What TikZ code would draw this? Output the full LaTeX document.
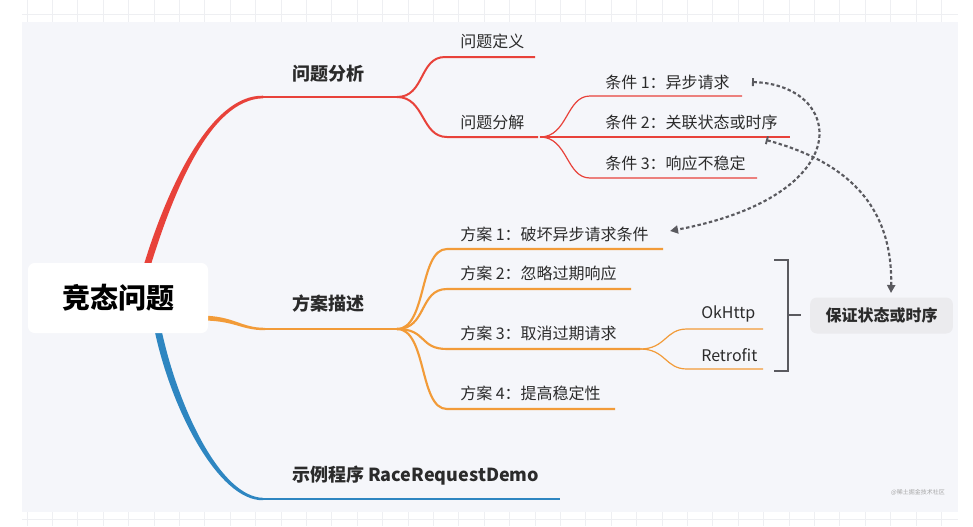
\documentclass[tikz,border=0pt]{standalone}
\usepackage{fontspec}
\setmainfont{Noto Sans CJK SC}
\usetikzlibrary{arrows.meta}
\definecolor{bgin}{HTML}{F5F6FA}
\definecolor{gridc}{HTML}{EEEFF2}
\definecolor{cred}{HTML}{E8423A}
\definecolor{corg}{HTML}{F29B38}
\definecolor{cblu}{HTML}{2E86C1}
\definecolor{ctxt}{HTML}{2B2B2B}
\definecolor{cgry}{HTML}{5A5A5F}
\definecolor{cbox}{HTML}{EBEBEE}
\begin{document}
\begin{tikzpicture}[x=0.75pt,y=-0.75pt,
  lvone/.style={font=\fontsize{13.5}{16}\selectfont\bfseries, text=ctxt, anchor=west, inner sep=0pt},
  lvtwo/.style={font=\fontsize{12}{14}\selectfont, text=ctxt, anchor=west, inner sep=0pt},
  rootbox/.style={fill=white, rounded corners=5pt, minimum width=135pt, minimum height=52.5pt,
    font=\fontsize{21}{24}\selectfont\bfseries, text=black},
  goalbox/.style={fill=cbox, rounded corners=5pt, minimum width=107pt, minimum height=27pt,
    font=\fontsize{12}{14}\selectfont\bfseries, text=ctxt},
  redtwo/.style={draw=cred, line width=1.5pt},
  redthree/.style={draw=cred, line width=0.9pt},
  orgone/.style={draw=corg, line width=1.9pt},
  orgtwo/.style={draw=corg, line width=1.6pt},
  orgthree/.style={draw=corg, line width=0.9pt},
  redone/.style={draw=cred, line width=1.9pt},
  bluone/.style={draw=cblu, line width=1.9pt},
  dasharrow/.style={draw=cgry, line width=1.6pt, dash pattern=on 2.6pt off 1.8pt,
    {Bar[width=6pt,line width=1.4pt]}-{Triangle[length=6pt,width=6pt]}},
  bracketline/.style={draw=cgry, line width=1.4pt},
  ]
% background
\useasboundingbox (0,0) rectangle (973,526);
\fill[white] (0,0) rectangle (973,526);
\foreach \gx in {27,52.4,...,960} {
  \draw[gridc, line width=0.5pt] (\gx,0) -- (\gx,22);
  \draw[gridc, line width=0.5pt] (\gx,512) -- (\gx,526);
}
\draw[gridc, line width=0.5pt] (22,14) -- (958,14);
\draw[gridc, line width=0.5pt] (22,519) -- (958,519);
\fill[bgin] (22,22) rectangle (958,512);

% ---------- coordinates ----------
\coordinate (rfork) at (397,97);
\coordinate (rstart) at (262,97);
\coordinate (dy1a) at (445,57);  \coordinate (dy1b) at (535,57);
\coordinate (dy2a) at (447,137); \coordinate (dy2b) at (538,137);
\coordinate (cfork) at (540,137);
\coordinate (c1a) at (590,96);  \coordinate (c1b) at (742,96);
\coordinate (c2a) at (590,137); \coordinate (c2b) at (790,137);
\coordinate (c3a) at (590,178); \coordinate (c3b) at (757,178);

\coordinate (ostart) at (264,329);
\coordinate (ofork) at (397,329);
\coordinate (f1a) at (447,249); \coordinate (f1b) at (663,249);
\coordinate (f2a) at (447,289); \coordinate (f2b) at (631,289);
\coordinate (f3a) at (447,349); \coordinate (f3b) at (640,349);
\coordinate (f4a) at (447,409); \coordinate (f4b) at (615,409);
\coordinate (ok1) at (687,329); \coordinate (ok2) at (763,329);
\coordinate (rt1) at (687,369); \coordinate (rt2) at (763,369);

\coordinate (bstart) at (262,499);
\coordinate (bend) at (560,499);

\coordinate (bk1) at (774,260); \coordinate (bk2) at (788,260);
\coordinate (bk3) at (788,371); \coordinate (bk4) at (774,371);
\coordinate (bkm) at (788,315); \coordinate (bkt) at (801,315);

% ---------- level one branches (tapered) ----------
\fill[cred] (143.5,266) .. controls (166.5,190) and (210,94.6) .. (263,95.7)
  -- (263,98.3) .. controls (210,99.4) and (173.5,192) .. (150.5,266) -- cycle;
\draw[redone] (rstart) -- (rfork);
\fill[corg] (200,315.5) .. controls (235,315.8) and (240,327.8) .. (265,327.8)
  -- (265,330.2) .. controls (240,330.2) and (235,320.2) .. (200,320.5) -- cycle;
\draw[orgone] (ostart) -- (ofork);
\fill[cblu] (154.5,330) .. controls (171.5,411) and (219,501) .. (263,500.2)
  -- (263,497.8) .. controls (221,497) and (178.5,409) .. (161.5,330) -- cycle;
\draw[bluone] (bstart) -- (bend);

% ---------- level two, red ----------
\draw[redtwo] (rfork) .. controls +(28,0) and +(-26,0) .. (dy1a) -- (dy1b);
\draw[redtwo] (rfork) .. controls +(28,0) and +(-26,0) .. (dy2a) -- (dy2b);
% level three, red
\draw[redthree] (cfork) .. controls +(28,0) and +(-24,0) .. (c1a) -- (c1b);
\draw[redthree] (cfork) -- (c2a) -- (c2b);
\draw[redthree] (cfork) .. controls +(28,0) and +(-24,0) .. (c3a) -- (c3b);

% ---------- level two, orange ----------
\draw[orgtwo] (ofork) .. controls +(30,0) and +(-28,0) .. (f1a) -- (f1b);
\draw[orgtwo] (ofork) .. controls +(30,0) and +(-28,0) .. (f2a) -- (f2b);
\draw[orgtwo] (ofork) .. controls +(30,0) and +(-28,0) .. (f3a) -- (f3b);
\draw[orgtwo] (ofork) .. controls +(30,0) and +(-28,0) .. (f4a) -- (f4b);
% level three, orange
\draw[orgthree] (f3b) .. controls +(26,0) and +(-22,0) .. (ok1) -- (ok2);
\draw[orgthree] (f3b) .. controls +(26,0) and +(-22,0) .. (rt1) -- (rt2);

% ---------- nodes ----------
\node[rootbox] (root) at (118,298) {竞态问题};

\node[lvone] (fenxi) at (292,74) {问题分析};
\node[lvone] (miaoshu) at (292,304) {方案描述};
\node[lvone] (demo) at (292,476) {示例程序 RaceRequestDemo};

\node[lvtwo] (dingyi) at (460,41) {问题定义};
\node[lvtwo] (fenjie) at (460,122) {问题分解};
\node[lvtwo] (tj1) at (605,82) {条件 1：异步请求};
\node[lvtwo] (tj2) at (605,122) {条件 2：关联状态或时序};
\node[lvtwo] (tj3) at (605,163) {条件 3：响应不稳定};

\node[lvtwo] (fa1) at (460,234) {方案 1：破坏异步请求条件};
\node[lvtwo] (fa2) at (460,273) {方案 2：忽略过期响应};
\node[lvtwo] (fa3) at (460,333) {方案 3：取消过期请求};
\node[lvtwo] (fa4) at (460,393) {方案 4：提高稳定性};
\node[lvtwo] (okhttp) at (701,314) {OkHttp};
\node[lvtwo] (retro) at (701,355) {Retrofit};

\node[goalbox] (goal) at (881.5,315.5) {保证状态或时序};

\node[font=\fontsize{4.5}{5}\selectfont, text=gray!70, inner sep=0pt] (wm) at (918,492) {@稀土掘金技术社区};

% ---------- bracket ----------
\draw[bracketline] (bk1) -- (bk2) -- (bk3) -- (bk4);
\draw[bracketline] (bkm) -- (bkt);

% ---------- dashed relations ----------
\coordinate (ar1s) at (752,82);
\coordinate (ar1e) at (670,231);
\coordinate (ar2s) at (766,140);
\coordinate (ar2e) at (891,293);
\draw[dasharrow] (ar1s) .. controls (845,85) and (860,195) .. (ar1e);
\draw[dasharrow] (ar2s) .. controls (840,160) and (893,200) .. (ar2e);
\end{tikzpicture}
\end{document}
